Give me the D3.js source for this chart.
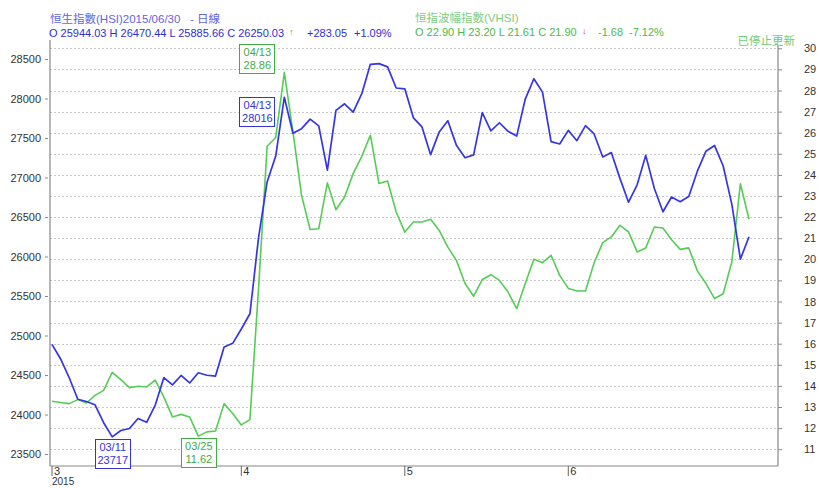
<!DOCTYPE html>
<html>
<head>
<meta charset="utf-8">
<script src="https://cdn.jsdelivr.net/npm/d3@7"></script>
<style>
  html, body { margin: 0; padding: 0; background: #fff; }
  svg { display: block; font-family: Arial, "Liberation Sans", "Noto Sans CJK TC", sans-serif; }
  text { white-space: pre; }
</style>
</head>
<body>
<div id="chart"></div>
<script>
// trading days per month (2015)
var marchDays = [2,3,4,5,6,9,10,11,12,13,16,17,18,19,20,23,24,25,26,27,30,31];
var aprilDays = [1,2,8,9,10,13,14,15,16,17,20,21,22,23,24,27,28,29,30];
var mayDays = [4,5,6,7,8,11,12,13,14,15,18,19,20,21,22,26,27,28,29];
var juneDays = [1,2,3,4,5,8,9,10,11,12,15,16,17,18,19,22,23,24,25,26,29,30];
var monthLabels = ["3", "4", "5", "6"];

// HSI closes
var hsiValues = [
  24887, 24703, 24465, 24193, 24164, 24123, 23896, 23717, 23797, 23823, 23949,
  23901, 24120, 24468, 24375, 24494, 24399, 24528, 24497, 24486, 24855, 24901,
  25082, 25275, 26236, 26944, 27272, 28016, 27561, 27618, 27739, 27653, 27094,
  27850, 27933, 27827, 28061, 28433, 28442, 28400, 28133,
  28123, 27755, 27640, 27289, 27577, 27718, 27407, 27250, 27286, 27822, 27591,
  27693, 27585, 27524, 27993, 28250, 28081, 27454, 27424,
  27597, 27466, 27657, 27551, 27260, 27316, 26989, 26687, 26907, 27280, 26861,
  26566, 26753, 26694, 26760, 27080, 27333, 27404, 27145, 26663, 25967, 26250
];

// VHSI closes
var vhsiValues = [
  13.27, 13.21, 13.16, 13.35, 13.19, 13.55, 13.79, 14.64, 14.30, 13.92, 13.98,
  13.95, 14.27, 13.47, 12.53, 12.65, 12.53, 11.62, 11.82, 11.86, 13.16, 12.69,
  12.15, 12.40, 18.60, 25.36, 25.77, 28.86, 26.05, 23.03, 21.41, 21.45, 23.62,
  22.35, 22.95, 24.06, 24.88, 25.88, 23.59, 23.71, 22.24,
  21.29, 21.77, 21.77, 21.90, 21.37, 20.58, 19.95, 18.85, 18.25, 19.04, 19.27,
  19.00, 18.45, 17.66, 18.85, 20.00, 19.84, 20.19, 19.24,
  18.62, 18.50, 18.50, 19.83, 20.79, 21.06, 21.61, 21.30, 20.35, 20.54, 21.53,
  21.48, 20.93, 20.47, 20.54, 19.45, 18.85, 18.14, 18.37, 19.87, 23.58, 21.90
];

var leftTicks = [23500, 24000, 24500, 25000, 25500, 26000, 26500, 27000, 27500, 28000, 28500];
var rightTicks = d3.range(11, 31);

var width = 819, height = 488;
var plot = { left: 50, right: 778, top: 40, bottom: 466 };

// build date labels (mm/dd) for every point
var months = [[3, marchDays], [4, aprilDays], [5, mayDays], [6, juneDays]];
var dates = [];
var monthStarts = [];
months.forEach(function (m) {
  monthStarts.push(dates.length);
  m[1].forEach(function (d) {
    dates.push(("0" + m[0]).slice(-2) + "/" + ("0" + d).slice(-2));
  });
});

var svg = d3.select("#chart").append("svg")
  .attr("width", width)
  .attr("height", height);

var x = d3.scalePoint().domain(dates).range([52, 749]);
var yLeft = d3.scaleLinear().domain([23500, 28500]).range([454, 59]);
var yRight = d3.scaleLinear().domain([11, 30]).range([449.2, 48.3]);

// dotted grid on the right axis ticks
svg.append("g")
  .selectAll("line")
  .data(rightTicks)
  .join("line")
  .attr("x1", plot.left)
  .attr("x2", plot.right)
  .attr("y1", function (d) { return Math.round(yRight(d)) + 0.5; })
  .attr("y2", function (d) { return Math.round(yRight(d)) + 0.5; })
  .attr("stroke", "#c8c8c8")
  .attr("stroke-width", 1)
  .attr("stroke-dasharray", "2,2");

// frame
var frame = svg.append("g").attr("stroke", "#888").attr("stroke-width", 1.2);
frame.append("line").attr("x1", plot.left).attr("x2", plot.left).attr("y1", plot.top).attr("y2", plot.bottom);
frame.append("line").attr("x1", plot.right).attr("x2", plot.right).attr("y1", 45).attr("y2", plot.bottom);
frame.append("line").attr("x1", plot.left).attr("x2", plot.right).attr("y1", plot.bottom).attr("y2", plot.bottom);

// left axis
var leftAxis = d3.axisLeft(yLeft).tickValues(leftTicks).tickFormat(d3.format("d")).tickSize(3).tickPadding(4);
var gl = svg.append("g").attr("transform", "translate(" + (plot.left - 2) + ",0)").call(leftAxis);
gl.select(".domain").remove();
gl.selectAll("line").attr("stroke", "#888");
gl.selectAll("text").attr("font-size", 11).attr("fill", "#333").attr("font-family", null);

// right axis
var rightAxis = d3.axisRight(yRight).tickValues(rightTicks).tickSize(4).tickPadding(22);
var gr = svg.append("g").attr("transform", "translate(" + plot.right + ",0)").call(rightAxis);
gr.select(".domain").remove();
gr.selectAll("line").attr("stroke", "#888");
gr.selectAll("text").attr("font-size", 11).attr("fill", "#333").attr("font-family", null);

// month ticks on bottom
var monthG = svg.append("g")
  .selectAll("g")
  .data(monthStarts)
  .join("g")
  .attr("transform", function (d) { return "translate(" + x(dates[d]) + "," + plot.bottom + ")"; });
monthG.append("line").attr("y1", 0).attr("y2", 10).attr("stroke", "#666");
monthG.append("text")
  .attr("x", 2)
  .attr("y", 9)
  .attr("font-size", 11)
  .attr("fill", "#333")
  .text(function (d, i) { return monthLabels[i]; });
svg.append("text")
  .attr("x", x(dates[0]))
  .attr("y", 485)
  .attr("font-size", 10)
  .attr("fill", "#333")
  .text("2015");

// lines
var vhsiLine = d3.line().x(function (d, i) { return x(dates[i]); }).y(function (d) { return yRight(d); });
var hsiLine = d3.line().x(function (d, i) { return x(dates[i]); }).y(function (d) { return yLeft(d); });

svg.append("path")
  .datum(vhsiValues)
  .attr("fill", "none")
  .attr("stroke", "#55cc55")
  .attr("stroke-width", 1.6)
  .attr("stroke-linejoin", "round")
  .attr("d", vhsiLine);

svg.append("path")
  .datum(hsiValues)
  .attr("fill", "none")
  .attr("stroke", "#3535e8")
  .attr("stroke-width", 1.7)
  .attr("stroke-linejoin", "round")
  .attr("d", hsiLine);

// high / low boxes
function markBox(values, scale, idx, color, place, fmt) {
  var px = x(dates[idx]);
  var py = scale(values[idx]);
  var w = 35, h = 29, bx, by;
  if (place === "below") {
    bx = px - w / 2;
    by = py + 2;
  } else if (place === "leftAbove") {
    bx = px - 10 - w;
    by = py - h + 1;
  } else {
    bx = px - 10 - w;
    by = py;
  }
  var g = svg.append("g");
  g.append("rect")
    .attr("x", Math.round(bx) + 0.5)
    .attr("y", Math.round(by) + 0.5)
    .attr("width", w)
    .attr("height", h)
    .attr("fill", "#fff")
    .attr("stroke", color)
    .attr("stroke-width", 1);
  g.append("text")
    .attr("x", bx + w / 2 + 0.5)
    .attr("y", by + 12)
    .attr("text-anchor", "middle")
    .attr("font-size", 11)
    .attr("fill", color)
    .text(dates[idx]);
  g.append("text")
    .attr("x", bx + w / 2 + 0.5)
    .attr("y", by + 25)
    .attr("text-anchor", "middle")
    .attr("font-size", 11)
    .attr("fill", color)
    .text(fmt(values[idx]));
}

markBox(hsiValues, yLeft, d3.minIndex(hsiValues), "#3333dd", "below", d3.format("d"));
markBox(vhsiValues, yRight, d3.minIndex(vhsiValues), "#44aa44", "below", d3.format(".2f"));
markBox(vhsiValues, yRight, d3.maxIndex(vhsiValues), "#44aa44", "leftAbove", d3.format(".2f"));
markBox(hsiValues, yLeft, d3.maxIndex(hsiValues.slice(0, 30)), "#3333dd", "leftBelow", d3.format("d"));

// header: HSI
svg.append("text")
  .attr("x", 50).attr("y", 23)
  .attr("font-size", 11.5)
  .attr("fill", "#6464dc")
  .text("恒生指數(HSI)2015/06/30   - 日線");
var h2 = svg.append("text")
  .attr("x", 49).attr("y", 37)
  .attr("font-size", 11)
  .attr("fill", "#2e2ed0");
h2.append("tspan").text("O 25944.03 H 26470.44 L 25885.66 C 26250.03");
h2.append("tspan").attr("x", 289).attr("dy", -2).attr("font-size", 9).attr("fill", "#33bb33").text("↑");
h2.append("tspan").attr("x", 307).attr("dy", 2).text("+283.05");
h2.append("tspan").attr("x", 354).text("+1.09%");

// header: VHSI
svg.append("text")
  .attr("x", 415).attr("y", 22)
  .attr("font-size", 11.5)
  .attr("fill", "#80cc80")
  .text("恒指波幅指數(VHSI)");
var v2 = svg.append("text")
  .attr("x", 415).attr("y", 36)
  .attr("font-size", 11)
  .attr("fill", "#4cb84c");
v2.append("tspan").text("O 22.90 H 23.20 L 21.61 C 21.90");
v2.append("tspan").attr("x", 582).attr("dy", -2).attr("font-size", 9).attr("fill", "#e03030").text("↓");
v2.append("tspan").attr("x", 598).attr("dy", 2).text("-1.68");
v2.append("tspan").attr("x", 629).text("-7.12%");

svg.append("text")
  .attr("x", 795).attr("y", 45)
  .attr("text-anchor", "end")
  .attr("font-size", 11.5)
  .attr("fill", "#70cc70")
  .text("已停止更新");
</script>
</body>
</html>
